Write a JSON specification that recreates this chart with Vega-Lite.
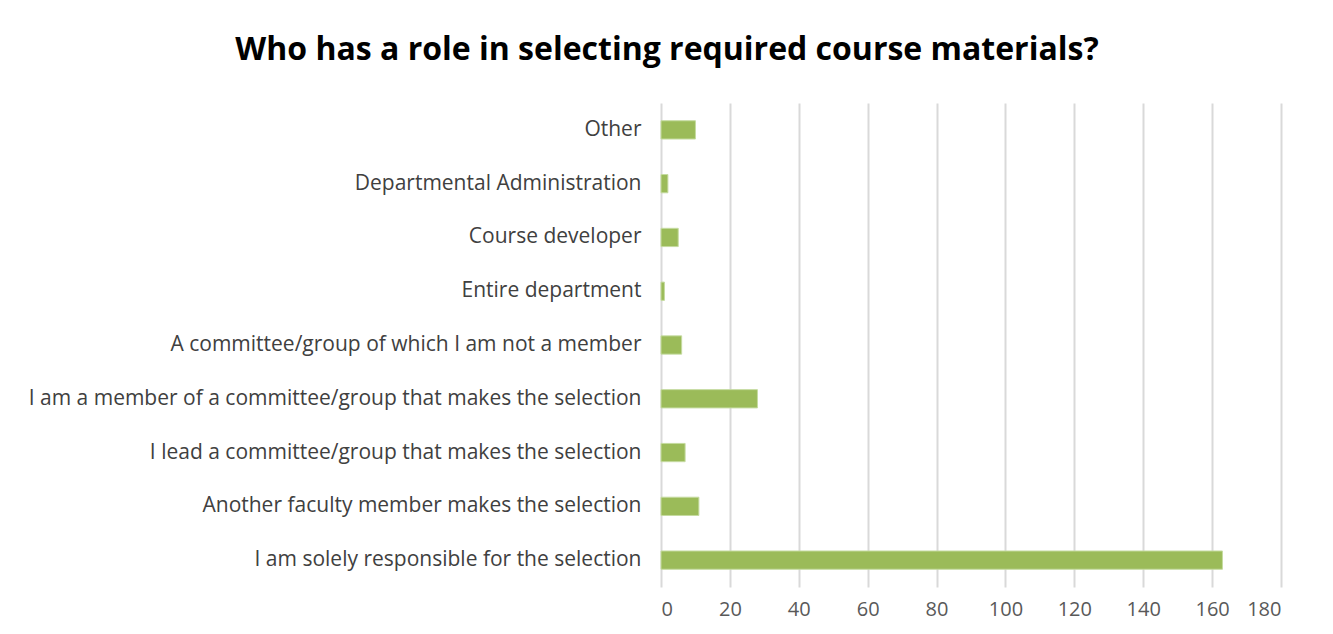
{
  "$schema": "https://vega.github.io/schema/vega-lite/v6.json",
  "autosize": "none",
  "width": 620,
  "height": 484,
  "padding": {"left": 661, "top": 103, "right": 52, "bottom": 47},
  "background": "white",
  "title": {
    "text": "Who has a role in selecting required course materials?",
    "font": "Open Sans",
    "fontSize": 32,
    "fontWeight": "bold",
    "color": "#000000",
    "anchor": "middle",
    "dx": -304,
    "offset": 36
  },
  "data": {
    "values": [
      {"role": "Other", "count": 10},
      {"role": "Departmental Administration", "count": 2},
      {"role": "Course developer", "count": 5},
      {"role": "Entire department", "count": 1},
      {"role": "A committee/group of which I am not a member", "count": 6},
      {"role": "I am a member of a committee/group that makes the selection", "count": 28},
      {"role": "I lead a committee/group that makes the selection", "count": 7},
      {"role": "Another faculty member makes the selection", "count": 11},
      {"role": "I am solely responsible for the selection", "count": 163}
    ]
  },
  "mark": {"type": "bar", "color": "#9bbb59", "stroke": "#c5dba0", "strokeWidth": 1},
  "encoding": {
    "y": {
      "field": "role",
      "type": "nominal",
      "sort": null,
      "scale": {"paddingInner": 0.66, "paddingOuter": 0.33},
      "axis": {
        "title": null,
        "ticks": false,
        "domain": false,
        "grid": false,
        "labelPadding": 20,
        "labelFont": "Open Sans",
        "labelFontSize": 21,
        "labelColor": "#404040",
        "labelLimit": 700
      }
    },
    "x": {
      "field": "count",
      "type": "quantitative",
      "scale": {"domain": [0, 180], "nice": false},
      "axis": {
        "title": null,
        "values": [0, 20, 40, 60, 80, 100, 120, 140, 160, 180],
        "domain": false,
        "ticks": false,
        "grid": true,
        "gridColor": "#d9d9d9",
        "gridWidth": 2,
        "labelPadding": 12,
        "labelFont": "Open Sans",
        "labelFontSize": 20,
        "labelColor": "#595959"
      }
    }
  },
  "config": {"view": {"stroke": null}}
}
